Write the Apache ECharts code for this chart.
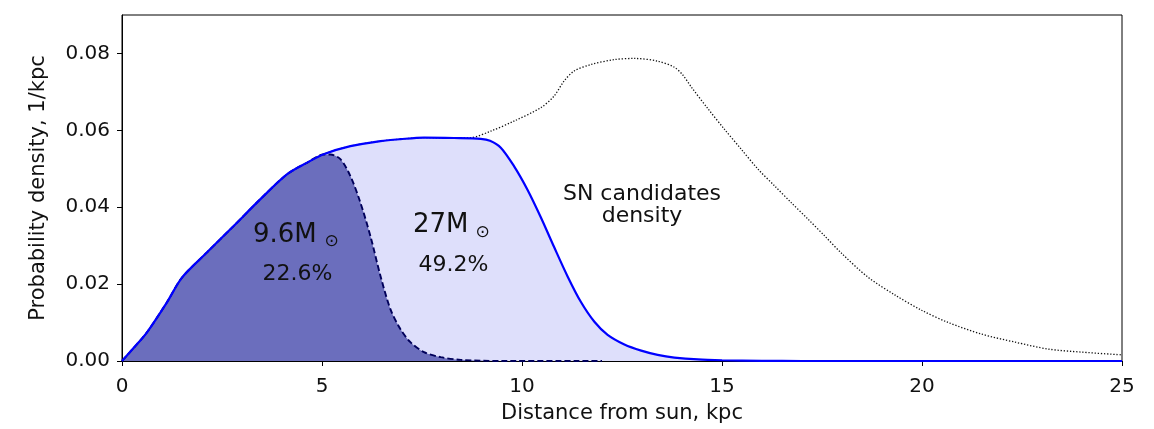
<!DOCTYPE html>
<html>
<head>
<meta charset="utf-8">
<script src="https://cdn.jsdelivr.net/npm/echarts@6/dist/echarts.min.js"></script>
<style>html,body{margin:0;padding:0;background:#fff}#c{width:1154px;height:429px}</style>
</head>
<body>
<div id="c"></div>
<script>
// ---- data ----
var xTicks = [0, 5, 10, 15, 20, 25];
var yTicks = [0, 0.02, 0.04, 0.06, 0.08];

// 27 M_sun (blue solid) probability density
var blueX = [0, 0.3, 0.62, 1.12, 1.5, 2.12, 2.79, 3.46, 4.13, 4.63, 5.04, 5.71, 6.46, 6.96, 7.55, 8.3, 8.97, 9.2, 9.47, 9.8, 10.14, 10.47, 10.8, 11.14, 11.47, 11.81, 12.14, 12.56, 12.98, 13.39, 13.81, 14.4, 15, 16, 17, 20, 25];
var blueY = [0, 0.0035, 0.0074, 0.0152, 0.0217, 0.0282, 0.0351, 0.0421, 0.0486, 0.0516, 0.0538, 0.0559, 0.0572, 0.0577, 0.0581, 0.0580, 0.0578, 0.0573, 0.0555, 0.0507, 0.0445, 0.0374, 0.0297, 0.0220, 0.0154, 0.0102, 0.0068, 0.0043, 0.0027, 0.0016, 0.0009, 0.0004, 0.0002, 0.00005, 0, 0, 0];

// 9.6 M_sun (dark, dashed) probability density
var darkX = [0, 0.3, 0.62, 1.12, 1.5, 2.12, 2.79, 3.46, 4.13, 4.63, 5.04, 5.21, 5.46, 5.71, 5.96, 6.21, 6.46, 6.71, 6.96, 7.21, 7.55, 7.97, 8.47, 9.5, 12];
var darkY = [0, 0.0035, 0.0074, 0.0152, 0.0217, 0.0282, 0.0351, 0.0421, 0.0486, 0.0516, 0.0537, 0.0537, 0.0525, 0.0481, 0.0412, 0.0325, 0.0222, 0.0135, 0.0083, 0.0049, 0.0023, 0.0010, 0.0003, 0, 0];

// SN candidates density (dotted)
var snX = [0, 0.3, 0.62, 1.12, 1.5, 2.12, 2.79, 3.46, 4.13, 4.63, 5.04, 5.71, 6.46, 6.96, 7.55, 8.3, 8.72, 9.22, 9.8, 10.47, 10.8, 11.05, 11.3, 11.72, 12.31, 12.81, 13.39, 13.81, 14.02, 14.23, 14.65, 15.06, 15.48, 15.9, 16.32, 16.73, 17.15, 17.57, 17.99, 18.65, 19.32, 19.99, 20.66, 21.49, 22.33, 23.16, 24.0, 25];
var snY = [0, 0.0035, 0.0074, 0.0152, 0.0217, 0.0282, 0.0351, 0.0421, 0.0486, 0.0516, 0.0538, 0.0559, 0.0572, 0.0577, 0.0581, 0.0580, 0.0581, 0.0598, 0.0624, 0.0659, 0.0689, 0.0728, 0.0754, 0.0771, 0.0784, 0.0787, 0.0780, 0.0764, 0.0744, 0.0713, 0.0656, 0.0603, 0.0551, 0.0499, 0.0455, 0.0412, 0.0369, 0.0325, 0.0280, 0.0218, 0.0172, 0.0132, 0.0100, 0.0070, 0.0049, 0.0031, 0.0023, 0.0016];

var xLabel = 'Distance from sun, kpc';
var yLabel = 'Probability density, 1/kpc';

function pairs(xs, ys) { return xs.map(function (x, i) { return [x, ys[i]]; }); }

var FONT = '"DejaVu Sans", sans-serif';
var SMOOTH = 0.3;
var chart = echarts.init(document.getElementById('c'), null, {renderer: 'canvas'});

chart.setOption({
  animation: false,
  backgroundColor: '#fff',
  grid: {left: 122, right: 32, top: 15, bottom: 67, show: true, borderColor: '#000', borderWidth: 1, backgroundColor: 'transparent'},
  xAxis: {
    type: 'value', min: 0, max: 25, interval: 5,
    name: xLabel, nameLocation: 'middle', nameGap: 42,
    nameTextStyle: {fontFamily: FONT, fontSize: 21, color: '#111'},
    axisLine: {show: true, onZero: false, lineStyle: {color: '#000', width: 1}},
    axisTick: {show: true, length: 5, lineStyle: {color: '#000', width: 1}, customValues: xTicks},
    axisLabel: {fontFamily: FONT, fontSize: 20, color: '#111', margin: 16, customValues: xTicks},
    splitLine: {show: false}
  },
  yAxis: {
    type: 'value', min: 0, max: 0.09, interval: 0.01,
    name: yLabel, nameLocation: 'middle', nameGap: 73, nameRotate: 90,
    nameTextStyle: {fontFamily: FONT, fontSize: 21, color: '#111'},
    axisLine: {show: true, onZero: false, lineStyle: {color: '#000', width: 1}},
    axisTick: {show: true, length: 5, lineStyle: {color: '#000', width: 1}, customValues: yTicks},
    axisLabel: {fontFamily: FONT, fontSize: 20, color: '#111', margin: 12, customValues: yTicks,
      formatter: function (v) { return v.toFixed(2); }},
    splitLine: {show: false}
  },
  series: [
    {
      name: '27M', type: 'line', data: pairs(blueX, blueY), smooth: SMOOTH,
      showSymbol: false, z: 1,
      lineStyle: {width: 0},
      areaStyle: {color: '#dedffb', opacity: 1, origin: 'start'}
    },
    {
      name: '9.6M', type: 'line', data: pairs(darkX, darkY), smooth: SMOOTH,
      showSymbol: false, z: 2,
      lineStyle: {color: '#00005a', width: 1.9, type: [6, 3]},
      areaStyle: {color: '#6b6ebd', opacity: 1, origin: 'start'}
    },
    {
      name: 'SN candidates density', type: 'line', data: pairs(snX, snY), smooth: SMOOTH,
      showSymbol: false, z: 3,
      lineStyle: {color: '#111', width: 1.3, type: [1.3, 1.8]}
    },
    {
      name: '27M line', type: 'line', data: pairs(blueX, blueY), smooth: SMOOTH,
      showSymbol: false, z: 4,
      lineStyle: {color: '#0000ff', width: 2.2}
    }
  ],
  graphic: [
    {type: 'text', left: 253, top: 222, z: 100, style: {text: '9.6M', font: '26px ' + FONT, fill: '#111'}},
    {type: 'text', x: 331.5, y: 242, z: 100, style: {text: '\u2299', font: '17px ' + FONT, fill: '#111', align: 'center', verticalAlign: 'middle'}},
    {type: 'text', x: 297.5, y: 274, z: 100, style: {text: '22.6%', font: '22px ' + FONT, fill: '#111', align: 'center', verticalAlign: 'middle'}},
    {type: 'text', left: 413, top: 212, z: 100, style: {text: '27M', font: '26px ' + FONT, fill: '#111'}},
    {type: 'text', x: 482.5, y: 233, z: 100, style: {text: '\u2299', font: '17px ' + FONT, fill: '#111', align: 'center', verticalAlign: 'middle'}},
    {type: 'text', x: 453.5, y: 265, z: 100, style: {text: '49.2%', font: '22px ' + FONT, fill: '#111', align: 'center', verticalAlign: 'middle'}},
    {type: 'text', x: 642, y: 194, z: 100, style: {text: 'SN candidates', font: '22px ' + FONT, fill: '#111', align: 'center', verticalAlign: 'middle'}},
    {type: 'text', x: 642, y: 216, z: 100, style: {text: 'density', font: '22px ' + FONT, fill: '#111', align: 'center', verticalAlign: 'middle'}}
  ]
});
</script>
</body>
</html>
